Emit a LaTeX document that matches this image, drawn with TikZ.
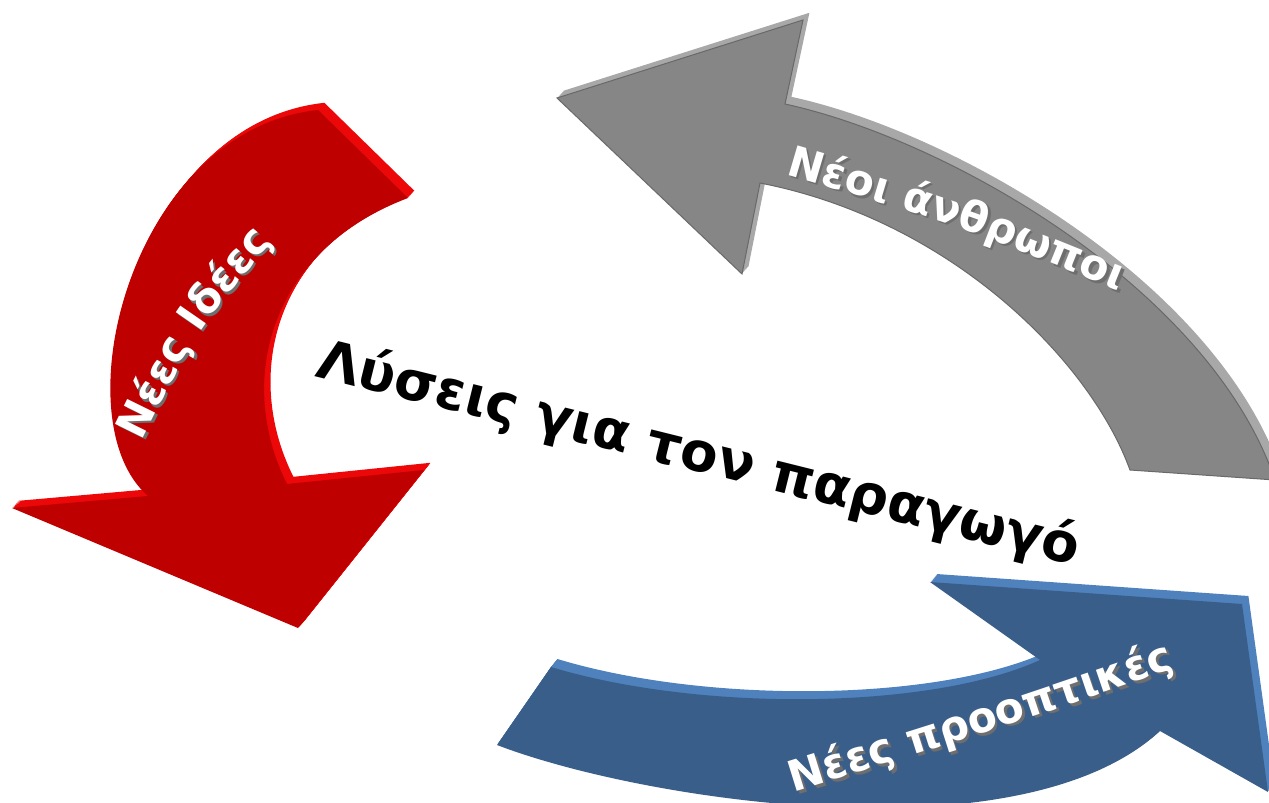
\documentclass[tikz,border=0pt]{standalone}
\usepackage{fontspec}
\setmainfont{DejaVu Sans}
\usetikzlibrary{decorations.text}
\definecolor{redface}{RGB}{190,0,0}
\definecolor{redside}{RGB}{236,8,8}
\definecolor{grayface}{RGB}{134,134,134}
\definecolor{grayside}{RGB}{168,168,168}
\definecolor{grayedge}{RGB}{105,105,105}
\definecolor{blueface}{RGB}{58,94,138}
\definecolor{blueside}{RGB}{79,129,189}
\definecolor{txtshadow}{RGB}{110,110,110}
\newcommand\lblfont{\fontsize{42.5}{50}\selectfont\bfseries}
\newcommand\titlefont{\fontsize{54.5}{64}\selectfont\bfseries}
\newcommand\redarrowshape[1]{\fill[#1] (318,110) .. controls (130,130) and (60,420) .. (148,496) -- (12,508) -- (298,628) -- (424,470) -- (287,484) .. controls (235,380) and (270,250) .. (408,198) -- cycle;}
\newcommand\grayarrowshape[1]{\fill[#1] (557,98) -- (803,20) -- (785,104) .. controls (950,140) and (1210,290) .. (1275,480) -- (1130,470) .. controls (1090,360) and (950,220) .. (760,183) -- (742,274) -- cycle;}
\newcommand\bluearrowshape[1]{\fill[#1] (551,667) .. controls (700,712) and (930,710) .. (1040,660) -- (930,582) -- (1242,604) -- (1268,792) -- (1160,731) .. controls (1020,860) and (640,800) .. (497,745) -- cycle;}
\tikzset{
  lbl/.style={decorate, decoration={text along path, text align=center, text color=#1}},
}
\begin{document}
\begin{tikzpicture}[x=1pt,y=-1pt]
\useasboundingbox (0,0) rectangle (1269,803);
\clip (0,0) rectangle (1269,803);
\fill[white] (0,0) rectangle (1269,803);
% red arrow
\foreach \i in {1,...,8}{\redarrowshape{redside, shift={(0.8*\i,-0.9*\i)}}}
\redarrowshape{redface}
% gray arrow
\foreach \i in {1,...,8}{\grayarrowshape{grayside, shift={(0.8*\i,-0.9*\i)}}}
\grayarrowshape{grayface, draw=grayedge, line width=1pt}
% blue arrow
\foreach \i in {1,...,8}{\bluearrowshape{blueside, shift={(0.8*\i,-1.0*\i)}}}
\bluearrowshape{blueface}
% labels
\foreach \c/\s in {txtshadow/2.5, white/0}{
  \path[lbl=\c, shift={(\s,\s)}, decoration={text={|\lblfont|Νέες Ιδέες}}]
    (113.6,499) -- (140,445) .. controls (195,333) .. (275,238) -- (313.6,192);
  \path[lbl=\c, shift={(\s+10,\s+2)}, decoration={text={|\lblfont|Νέοι άνθρωποι}}]
    (727.5,158) -- (785,175) .. controls (945,222) .. (1100,285) -- (1155.6,307.6);
  \path[lbl=\c, shift={(\s+7,\s-7)}, decoration={text={|\lblfont|Νέες προοπτικές}}]
    (738.6,818.7) -- (795,797) .. controls (978,740) .. (1160,678) -- (1218,659);
}
\node[anchor=base, rotate=-14, font=\titlefont, inner sep=0pt] (title) at (695,471) {Λύσεις για τον παραγωγό};
\end{tikzpicture}
\end{document}
